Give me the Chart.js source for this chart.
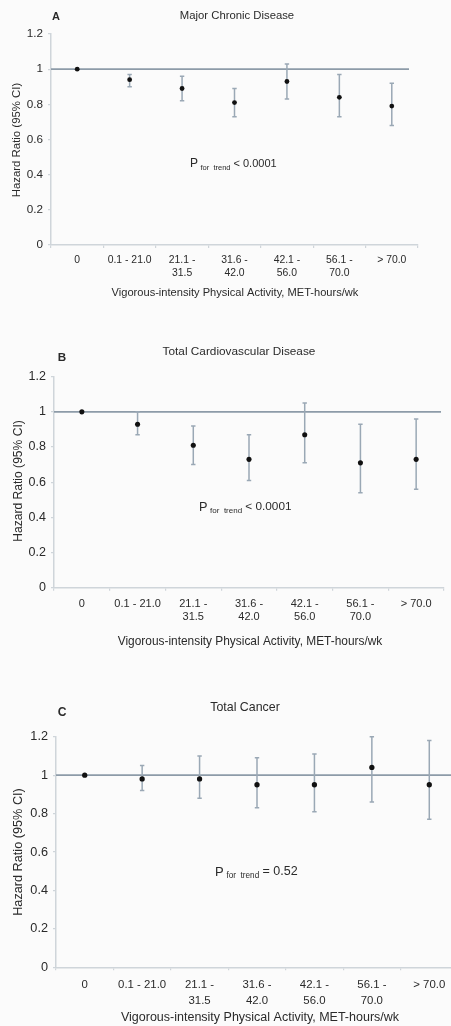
<!DOCTYPE html>
<html>
<head>
<meta charset="utf-8">
<script src="https://cdn.jsdelivr.net/npm/chart.js@4.4.1/dist/chart.umd.min.js"></script>
<style>
  html, body { margin: 0; padding: 0; background: #fbfbfb; width: 451px; height: 1026px; overflow: hidden; }
  .panel { position: absolute; left: 0; }
  canvas { display: block; }
</style>
</head>
<body>
<div class="panel" style="top:0px"><canvas id="cA" width="451" height="310"></canvas></div>
<div class="panel" style="top:330px"><canvas id="cB" width="451" height="330"></canvas></div>
<div class="panel" style="top:660px"><canvas id="cC" width="470" height="366"></canvas></div>
<script>
// ---------- DATA ----------
const categories = [['0'], ['0.1 - 21.0'], ['21.1 -', '31.5'], ['31.6 -', '42.0'], ['42.1 -', '56.0'], ['56.1 -', '70.0'], ['> 70.0']];
const yTickValues = [0, 0.2, 0.4, 0.6, 0.8, 1, 1.2];
const referenceHR = 1;

const hrChronic    = [1.00, 0.94, 0.89, 0.81, 0.93, 0.84, 0.79];
const lowerChronic = [null, 0.90, 0.82, 0.73, 0.83, 0.73, 0.68];
const upperChronic = [null, 0.97, 0.96, 0.89, 1.03, 0.97, 0.92];

const hrCVD    = [1.00, 0.93, 0.81, 0.73, 0.87, 0.71, 0.73];
const lowerCVD = [null, 0.87, 0.70, 0.61, 0.71, 0.54, 0.56];
const upperCVD = [null, 1.00, 0.92, 0.87, 1.05, 0.93, 0.96];

const hrCancer    = [1.00, 0.98, 0.98, 0.95, 0.95, 1.04, 0.95];
const lowerCancer = [null, 0.92, 0.88, 0.83, 0.81, 0.86, 0.77];
const upperCancer = [null, 1.05, 1.10, 1.09, 1.11, 1.20, 1.18];

const panelLetters = ['A', 'B', 'C'];
const panelTitles = ['Major Chronic Disease', 'Total Cardiovascular Disease', 'Total Cancer'];
const trendTexts = [['P', 'for  trend', '< 0.0001'], ['P', 'for  trend', '< 0.0001'], ['P', 'for  trend', '= 0.52']];
const xAxisTitle = 'Vigorous-intensity Physical Activity, MET-hours/wk';
const yAxisTitle = 'Hazard Ratio (95% CI)';

// ---------- STYLE ----------
const FONT = '"Liberation Sans", Arial, Helvetica, sans-serif';
const TEXT = '#2a2a2a';
const AXIS = '#cfd5da';
const REF = '#8d9ba8';
const BAR = '#9aa8b5';

const decor = {
  id: 'decor',
  beforeDatasetsDraw(chart, args, o) {
    const { ctx, chartArea, scales: { x, y } } = chart;
    ctx.save();
    // reference line at HR = 1
    const py = y.getPixelForValue(referenceHR);
    ctx.strokeStyle = REF; ctx.lineWidth = 1.6;
    ctx.beginPath(); ctx.moveTo(chartArea.left, py); ctx.lineTo(chartArea.right - o.refInset, py); ctx.stroke();
    // error bars
    ctx.strokeStyle = BAR; ctx.lineWidth = 1.5;
    o.lower.forEach((lo, i) => {
      const hi = o.upper[i];
      if (lo == null || hi == null) return;
      const px = x.getPixelForValue(i);
      const a = y.getPixelForValue(lo), b = y.getPixelForValue(hi);
      ctx.beginPath();
      ctx.moveTo(px, a); ctx.lineTo(px, b);
      ctx.moveTo(px - 2.2, a); ctx.lineTo(px + 2.2, a);
      ctx.moveTo(px - 2.2, b); ctx.lineTo(px + 2.2, b);
      ctx.stroke();
    });
    ctx.restore();
  },
  afterDraw(chart, args, o) {
    const { ctx } = chart;
    const s = o.s;
    ctx.save();
    ctx.fillStyle = TEXT;
    ctx.textBaseline = 'middle';
    // letter
    ctx.font = `bold ${11 * s}px ${FONT}`;
    ctx.textAlign = 'center';
    ctx.fillText(o.letter, o.letterPos[0], o.letterPos[1]);
    // title
    ctx.font = `${o.titleSize}px ${FONT}`;
    ctx.fillText(o.title, o.titlePos[0], o.titlePos[1]);
    // x title
    ctx.font = `${o.xTitleSize}px ${FONT}`;
    ctx.fillText(xAxisTitle, o.xTitlePos[0], o.xTitlePos[1]);
    // y title
    ctx.save();
    ctx.translate(o.yTitlePos[0], o.yTitlePos[1]);
    ctx.rotate(-Math.PI / 2);
    ctx.font = `${o.yTitleSize}px ${FONT}`;
    ctx.fillText(yAxisTitle, 0, 0);
    ctx.restore();
    // P for trend
    ctx.textAlign = 'left';
    let px = o.pPos[0]; const py = o.pPos[1];
    ctx.font = `${o.pSize}px ${FONT}`;
    ctx.fillText(o.trend[0], px, py);
    px += ctx.measureText(o.trend[0]).width + 2.5 * s;
    ctx.font = `${o.subSize}px ${FONT}`;
    ctx.fillText(o.trend[1], px, py + 3.5 * s);
    px += ctx.measureText(o.trend[1]).width + 3 * s;
    ctx.font = `${o.restSize}px ${FONT}`;
    ctx.fillText(o.trend[2], px, py);
    ctx.restore();
  }
};

function makePanel(id, hr, lower, upper, cfg) {
  const canvas = document.getElementById(id);
  return new Chart(canvas, {
    type: 'line',
    data: {
      labels: categories,
      datasets: [{
        data: hr,
        showLine: false,
        pointRadius: 2.4 * cfg.s,
        pointHoverRadius: 2.4 * cfg.s,
        pointBackgroundColor: '#111',
        pointBorderColor: '#111',
        pointBorderWidth: 0
      }]
    },
    options: {
      responsive: false,
      animation: false,
      events: [],
      layout: { padding: cfg.padding },
      plugins: {
        legend: { display: false },
        tooltip: { enabled: false },
        decor: Object.assign({ lower, upper }, cfg.decor)
      },
      scales: {
        x: {
          type: 'category',
          offset: true,
          grid: { offset: true, drawOnChartArea: false, color: AXIS, tickLength: 3, lineWidth: 1.2 },
          border: { color: AXIS, width: 1.5 },
          ticks: {
            color: TEXT, padding: cfg.xPad, maxRotation: 0, autoSkip: false,
            font: { family: FONT, size: cfg.xTickSize, lineHeight: cfg.xLine }
          },
          afterFit(sc) { sc.height = 40; }
        },
        y: {
          min: 0, max: 1.2,
          afterBuildTicks(sc) { sc.ticks = yTickValues.map(v => ({ value: v })); },
          grid: { drawOnChartArea: false, color: AXIS, tickLength: 3, lineWidth: 1.2 },
          border: { color: AXIS, width: 1.5 },
          ticks: {
            color: TEXT, padding: 5,
            font: { family: FONT, size: cfg.yTickSize },
            callback: v => String(Math.round(v * 10) / 10)
          },
          afterFit(sc) { sc.width = 45; }
        }
      }
    },
    plugins: [decor]
  });
}

makePanel('cA', hrChronic, lowerChronic, upperChronic, {
  s: 1,
  padding: { left: 6, top: 34, right: 33, bottom: 25 },
  xTickSize: 10.4, xLine: 1.3, xPad: 5, yTickSize: 11.7,
  decor: {
    s: 1, refInset: 9,
    letter: panelLetters[0], letterPos: [56, 17],
    title: panelTitles[0], titleSize: 11.3, titlePos: [237, 16],
    xTitleSize: 11.1, xTitlePos: [235, 293],
    yTitleSize: 11.4, yTitlePos: [17, 140],
    trend: trendTexts[0], pPos: [190, 164], pSize: 12, subSize: 7.5, restSize: 11
  }
});

makePanel('cB', hrCVD, lowerCVD, upperCVD, {
  s: 1.06,
  padding: { left: 9, top: 46.7, right: 7, bottom: 32.3 },
  xTickSize: 11, xLine: 1.25, xPad: 6, yTickSize: 12.5,
  decor: {
    s: 1.06, refInset: 3,
    letter: panelLetters[1], letterPos: [62, 28],
    title: panelTitles[1], titleSize: 11.8, titlePos: [239, 22],
    xTitleSize: 11.9, xTitlePos: [250, 312],
    yTitleSize: 12.1, yTitlePos: [19, 151],
    trend: trendTexts[1], pPos: [199, 177], pSize: 12.7, subSize: 8, restSize: 11.8
  }
});

makePanel('cC', hrCancer, lowerCancer, upperCancer, {
  s: 1.1,
  padding: { left: 11, top: 76.7, right: 12, bottom: 18.7 },
  xTickSize: 11.4, xLine: 1.35, xPad: 7, yTickSize: 12.7,
  decor: {
    s: 1.1, refInset: 0,
    letter: panelLetters[2], letterPos: [62, 53],
    title: panelTitles[2], titleSize: 12.4, titlePos: [245, 48],
    xTitleSize: 12.5, xTitlePos: [260, 358],
    yTitleSize: 12.7, yTitlePos: [18, 192],
    trend: trendTexts[2], pPos: [215, 212], pSize: 13, subSize: 8.2, restSize: 12.5
  }
});
</script>
</body>
</html>
